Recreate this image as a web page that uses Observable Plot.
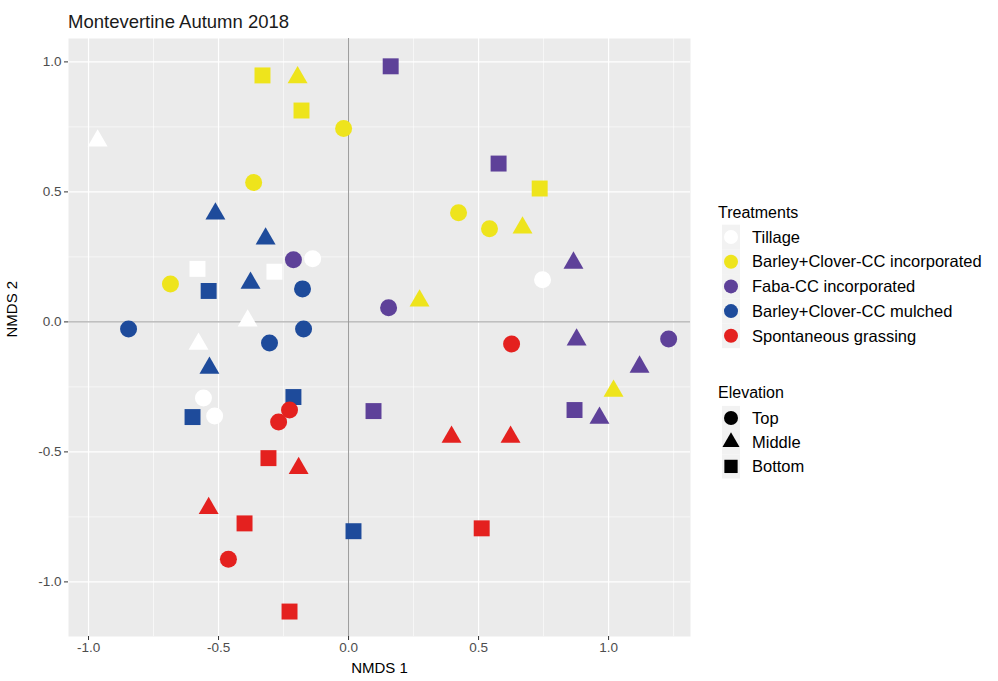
<!DOCTYPE html>
<html><head><meta charset="utf-8">
<script src="https://cdn.jsdelivr.net/npm/d3@7"></script>
<script src="https://cdn.jsdelivr.net/npm/@observablehq/plot@0.6"></script>
<style>
body{margin:0;background:#fff;font-family:"Liberation Sans",Arial,sans-serif;}
#wrap{position:relative;width:998px;height:681px;overflow:hidden;}
#wrap > *{position:absolute;}
.title{left:68px;top:11px;font-size:18.5px;color:#1a1a1a;white-space:nowrap;}
</style></head><body><div id="wrap"></div>
<script>
// ---- categories & scales ----
const treatments = ["Tillage","Barley+Clover-CC incorporated","Faba-CC incorporated","Barley+Clover-CC mulched","Spontaneous grassing"];
const treatmentColors = ["#FFFFFF","#EEE41C","#5E4199","#1E4B9B","#E4211F"];
const elevations = ["Top","Middle","Bottom"];
const elevationSymbols = ["circle","triangle","square"];
const xTicks = [-1.0,-0.5,0.0,0.5,1.0];
const yTicks = [-1.0,-0.5,0.0,0.5,1.0];
const xMinor = [-0.75,-0.25,0.25,0.75,1.25];
const yMinor = [-0.75,-0.25,0.25,0.75];

// ---- series values (NMDS 1, NMDS 2, elevation) ----
const tillageX = [-0.965,-0.581,-0.285,-0.138,-0.388,-0.577,-0.558,-0.515,0.746];
const tillageY = [0.697,0.204,0.193,0.243,0.004,-0.085,-0.293,-0.362,0.162];
const tillageE = ["Middle","Bottom","Bottom","Top","Middle","Middle","Top","Top","Top"];

const bcIncX = [-0.331,-0.196,-0.181,-0.019,-0.365,-0.685,0.423,0.542,0.669,0.735,0.273,1.019];
const bcIncY = [0.948,0.940,0.813,0.744,0.536,0.146,0.420,0.358,0.362,0.513,0.081,-0.266];
const bcIncE = ["Bottom","Middle","Bottom","Top","Top","Top","Top","Top","Middle","Bottom","Middle","Middle"];

const fabaX = [0.162,0.577,-0.212,0.865,0.154,0.877,1.231,1.119,0.869,0.965,0.096];
const fabaY = [0.983,0.609,0.239,0.227,0.054,-0.069,-0.066,-0.173,-0.339,-0.370,-0.343];
const fabaE = ["Bottom","Bottom","Top","Middle","Top","Middle","Top","Middle","Bottom","Middle","Bottom"];

const bcMulX = [-0.512,-0.319,-0.377,-0.538,-0.177,-0.846,-0.173,-0.304,-0.535,-0.212,-0.600,0.019];
const bcMulY = [0.416,0.320,0.150,0.119,0.127,-0.027,-0.027,-0.081,-0.177,-0.289,-0.366,-0.805];
const bcMulE = ["Middle","Middle","Middle","Bottom","Top","Top","Top","Top","Middle","Bottom","Bottom","Bottom"];

const spontX = [0.627,0.396,0.623,0.512,-0.227,-0.269,-0.308,-0.192,-0.538,-0.400,-0.462,-0.227];
const spontY = [-0.085,-0.443,-0.443,-0.794,-0.339,-0.385,-0.524,-0.563,-0.717,-0.775,-0.913,-1.114];
const spontE = ["Top","Middle","Middle","Bottom","Top","Top","Bottom","Middle","Middle","Bottom","Top","Bottom"];

const series = [
  [treatments[0], tillageX, tillageY, tillageE],
  [treatments[1], bcIncX, bcIncY, bcIncE],
  [treatments[2], fabaX, fabaY, fabaE],
  [treatments[3], bcMulX, bcMulY, bcMulE],
  [treatments[4], spontX, spontY, spontE]
];
const data = series.flatMap(([t, xs, ys, es]) => xs.map((x, i) => ({treatment: t, x, y: ys[i], elevation: es[i]})));
const symbolRadius = {Top: 8.5, Middle: 7.4, Bottom: 9};

const wrap = document.getElementById("wrap");
const fmt = d => d.toFixed(1);

const chart = Plot.plot({
  width: 998, height: 681,
  marginLeft: 68, marginRight: 308, marginTop: 38, marginBottom: 45,
  style: {fontFamily: '"Liberation Sans", Arial, sans-serif', background: "transparent"},
  x: {domain: [-1.077, 1.315], ticks: xTicks},
  y: {domain: [-1.21, 1.09], ticks: yTicks},
  r: {type: "identity"},
  color: {type: "ordinal", domain: treatments, range: treatmentColors},
  symbol: {domain: elevations, range: elevationSymbols},
  marks: [
    Plot.frame({fill: "#EBEBEB", stroke: "none"}),
    Plot.ruleX(xMinor, {stroke: "white", strokeWidth: 0.6}),
    Plot.ruleY(yMinor, {stroke: "white", strokeWidth: 0.6}),
    Plot.ruleX(xTicks, {stroke: "white", strokeWidth: 1.2}),
    Plot.ruleY(yTicks, {stroke: "white", strokeWidth: 1.2}),
    Plot.ruleX([0], {stroke: "#9a9a9a", strokeWidth: 1}),
    Plot.ruleY([0], {stroke: "#9a9a9a", strokeWidth: 1}),
    Plot.axisX({ticks: xTicks, tickFormat: fmt, tickSize: 4, tickPadding: 2, fontSize: 13.5, label: null, stroke: "#333", color: "#4D4D4D"}),
    Plot.axisY({ticks: yTicks, tickFormat: fmt, tickSize: 4, tickPadding: 3, fontSize: 13.5, label: null, stroke: "#333", color: "#4D4D4D"}),
    Plot.text(["NMDS 1"], {frameAnchor: "bottom", dy: 36, fontSize: 15, fill: "#000"}),
    Plot.text(["NMDS 2"], {frameAnchor: "left", dx: -56, rotate: -90, fontSize: 15, fill: "#000"}),
    Plot.dot(data, {x: "x", y: "y", fill: "treatment", symbol: "elevation", r: d => symbolRadius[d.elevation], stroke: "none"})
  ]
});
chart.style.left = "0px"; chart.style.top = "0px";
wrap.appendChild(chart);

const title = document.createElement("div");
title.className = "title";
title.textContent = "Montevertine Autumn 2018";
wrap.appendChild(title);

// ---- legend ----
const leg = d3.create("svg").attr("width", 290).attr("height", 300)
  .style("left", "708px").style("top", "190px")
  .style("font-family", '"Liberation Sans", Arial, sans-serif');
const g = leg.append("g").attr("transform", "translate(-708,-190)");
g.append("text").attr("x", 718).attr("y", 212).attr("dy", "0.35em").attr("font-size", 16).attr("fill", "#000").text("Treatments");
treatments.forEach((t, i) => {
  const cy = 237 + i * 24.7;
  g.append("rect").attr("x", 722).attr("y", cy - 12.3).attr("width", 18).attr("height", 24.7).attr("fill", "#F2F2F2");
  g.append("circle").attr("cx", 731).attr("cy", cy).attr("r", 7).attr("fill", treatmentColors[i]);
  g.append("text").attr("x", 752).attr("y", cy).attr("dy", "0.35em").attr("font-size", 16.5).attr("fill", "#000").text(t);
});
g.append("text").attr("x", 718).attr("y", 392).attr("dy", "0.35em").attr("font-size", 16).attr("fill", "#000").text("Elevation");
const legendSize = {circle: Math.PI * 49, triangle: Math.PI * 40, square: Math.PI * 56};
elevations.forEach((e, i) => {
  const cy = 418 + i * 24.2;
  const s = elevationSymbols[i];
  g.append("rect").attr("x", 722).attr("y", cy - 12.1).attr("width", 18).attr("height", 24.2).attr("fill", "#F2F2F2");
  g.append("path").attr("transform", `translate(731,${cy})`).attr("d", d3.symbol(d3["symbol" + s[0].toUpperCase() + s.slice(1)], legendSize[s])()).attr("fill", "#000");
  g.append("text").attr("x", 752).attr("y", cy).attr("dy", "0.35em").attr("font-size", 16.5).attr("fill", "#000").text(e);
});
wrap.appendChild(leg.node());
</script></body></html>
